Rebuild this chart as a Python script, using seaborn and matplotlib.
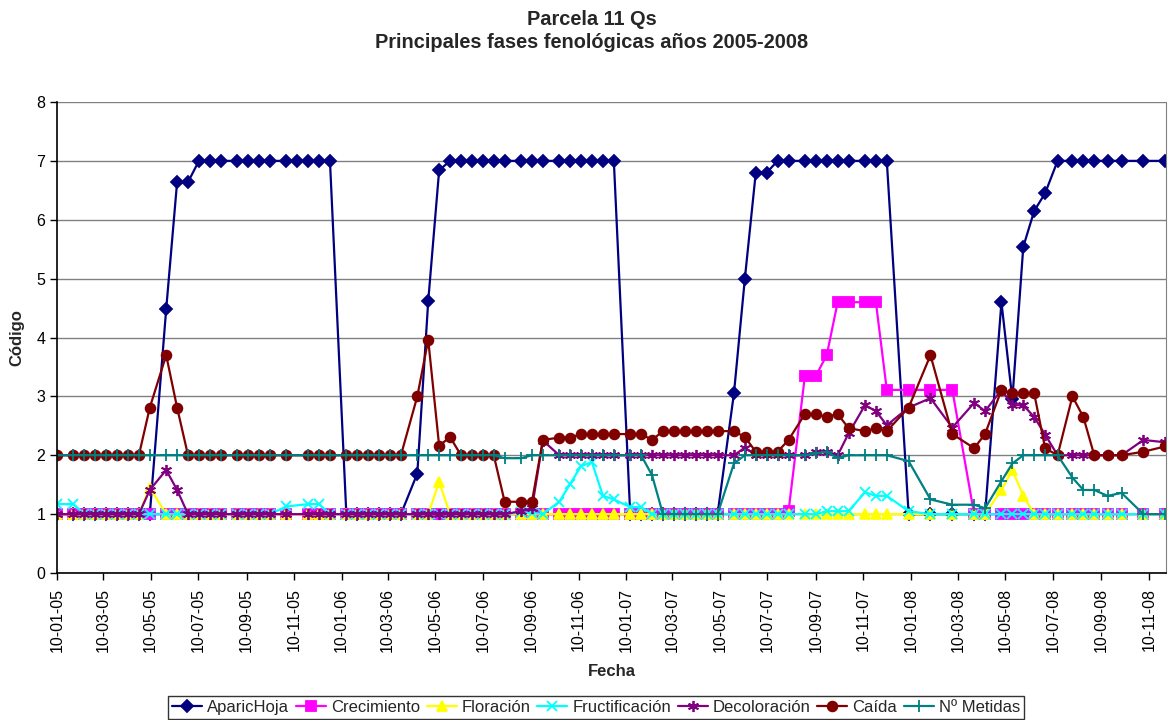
import pandas as pd
import matplotlib
matplotlib.use('Agg')
import matplotlib.pyplot as plt
import matplotlib.dates as mdates
import seaborn as sns

# Fechas de muestreo
fechas = [
    "2005-01-10", "2005-01-31", "2005-02-14", "2005-02-28", "2005-03-14", "2005-03-28", "2005-04-11", "2005-04-25", "2005-05-09", "2005-05-30",
    "2005-06-13", "2005-06-27", "2005-07-11", "2005-07-25", "2005-08-08", "2005-08-29", "2005-09-12", "2005-09-26", "2005-10-10", "2005-10-31",
    "2005-11-14", "2005-11-28", "2005-12-12", "2005-12-26", "2006-01-16", "2006-01-30", "2006-02-13", "2006-02-27", "2006-03-13", "2006-03-27",
    "2006-04-17", "2006-05-01", "2006-05-15", "2006-05-29", "2006-06-12", "2006-06-26", "2006-07-10", "2006-07-24", "2006-08-07", "2006-08-28",
    "2006-09-11", "2006-09-25", "2006-10-16", "2006-10-30", "2006-11-13", "2006-11-27", "2006-12-11", "2006-12-25", "2007-01-15", "2007-01-29",
    "2007-02-12", "2007-02-26", "2007-03-12", "2007-03-26", "2007-04-09", "2007-04-23", "2007-05-07", "2007-05-28", "2007-06-11", "2007-06-25",
    "2007-07-09", "2007-07-23", "2007-08-06", "2007-08-27", "2007-09-10", "2007-09-24", "2007-10-08", "2007-10-22", "2007-11-12", "2007-11-26",
    "2007-12-10", "2008-01-07", "2008-02-04", "2008-03-03", "2008-03-31", "2008-04-14", "2008-05-05", "2008-05-19", "2008-06-02", "2008-06-16",
    "2008-06-30", "2008-07-16", "2008-08-04", "2008-08-18", "2008-09-01", "2008-09-18", "2008-10-06", "2008-11-03", "2008-12-01",
]

N = None

aparic_hoja = [
    1, 1, 1, 1, 1, 1, 1, 1, 1, 4.48,
    6.64, 6.64, 7, 7, 7, 7, 7, 7, 7, 7,
    7, 7, 7, 7, 1, 1, 1, 1, 1, 1,
    1.69, 4.62, 6.84, 7, 7, 7, 7, 7, 7, 7,
    7, 7, 7, 7, 7, 7, 7, 7, 1, 1,
    1, 1, 1, 1, 1, 1, 1, 3.05, 5.0, 6.8,
    6.8, 7, 7, 7, 7, 7, 7, 7, 7, 7,
    7, 1, 1, 1, 1, 1, 4.6, 2.95, 5.54, 6.15,
    6.45, 7, 7, 7, 7, 7, 7, 7, 7,
]

crecimiento = [
    1, 1, 1, 1, 1, 1, 1, 1, 1, 1,
    1, 1, 1, 1, 1, 1, 1, 1, 1, 1,
    N, 1, 1, 1, 1, 1, 1, 1, 1, 1,
    1, 1, 1, 1, 1, 1, 1, 1, 1, 1,
    1, 1, 1, 1, 1, 1, 1, 1, 1, 1,
    1, 1, 1, 1, 1, 1, 1, 1, 1, 1,
    1, 1, 1.05, 3.35, 3.35, 3.7, 4.6, 4.6, 4.6, 4.6,
    3.11, 3.11, 3.11, 3.11, 1, 1, 1, 1, 1, 1,
    1, 1, 1, 1, 1, 1, 1, 1, 1,
]

floracion = [
    1, 1, 1, 1, 1, 1, 1, 1, 1.45, 1,
    1, 1, 1, 1, 1, 1, 1, 1, 1, 1,
    N, 1, 1, 1, 1, 1, 1, 1, 1, 1,
    1, 1, 1.55, 1, 1, 1, 1, 1, 1, 1,
    1, 1, 1, 1, 1, 1, 1, 1, 1, 1,
    1, 1, 1, 1, 1, 1, 1, 1, 1, 1,
    1, 1, 1, 1, 1, 1, 1, 1, 1, 1,
    1, 1, 1, 1, 1, 1, 1.41, 1.75, 1.31, 1,
    1, 1, 1, 1, 1, 1, 1, 1, 1,
]

fructificacion = [
    1.17, 1.17, 1, 1, 1, 1, 1, 1, 1, 1,
    1, 1, 1, 1, 1, 1, 1, 1, 1, 1.13,
    N, 1.17, 1.17, 1, 1, 1, 1, 1, 1, 1,
    1, 1, 1, 1, 1, 1, 1, 1, 1, 1.03,
    1.02, 1.0, 1.21, 1.51, 1.82, 1.88, 1.31, 1.25, 1.12, 1.12,
    1, 1, 1, 1, 1, 1, 1, 1, 1, 1,
    1, 1, 1, 1, 1, 1.05, 1.05, 1.05, 1.37, 1.31,
    1.31, 1.05, 1, 1, 1, 1, 1, 1, 1, 1,
    1, 1, 1, 1, 1, 1, 1, 1, 1,
]

decoloracion = [
    1, 1, 1, 1, 1, 1, 1, 1, 1.41, 1.75,
    1.41, 1, 1, 1, 1, 1, 1, 1, 1, 1,
    N, 1, 1, 1, 1, 1, 1, 1, 1, 1,
    1, 1, 1, 1, 1, 1, 1, 1, 1, 1.05,
    1.1, 2.25, 2, 2, 2, 2, 2, 2, 2, 2,
    2, 2, 2, 2, 2, 2, 2, 2, 2.13, 2,
    2, 2, 2, 2, 2.06, 2.06, 2, 2.37, 2.85, 2.75,
    2.51, 2.81, 2.97, 2.47, 2.89, 2.75, 3.11, 2.85, 2.85, 2.65,
    2.35, 2, 2, 2, 2, 2, 2, 2.26, 2.22,
]

caida = [
    2, 2, 2, 2, 2, 2, 2, 2, 2.81, 3.7,
    2.81, 2, 2, 2, 2, 2, 2, 2, 2, 2,
    N, 2, 2, 2, 2, 2, 2, 2, 2, 2,
    3.0, 3.96, 2.16, 2.31, 2, 2, 2, 2, 1.21, 1.21,
    1.21, 2.26, 2.3, 2.3, 2.36, 2.36, 2.36, 2.36, 2.36, 2.36,
    2.26, 2.41, 2.41, 2.41, 2.41, 2.41, 2.41, 2.41, 2.31, 2.06,
    2.06, 2.06, 2.26, 2.7, 2.7, 2.65, 2.7, 2.46, 2.41, 2.46,
    2.41, 2.81, 3.7, 2.36, 2.12, 2.36, 3.11, 3.05, 3.05, 3.05,
    2.12, 2, 3, 2.65, 2, 2, 2, 2.06, 2.15,
]

n_metidas = [
    2, 2, 2, 2, 2, 2, 2, 2, 2, 2,
    2, 2, 2, 2, 2, 2, 2, 2, 2, 2,
    N, 2, 2, 2, 2, 2, 2, 2, 2, 2,
    2, 2, 2, 2, 2, 2, 2, 2, 1.95, 1.95,
    2, 2, 2, 2, 2, 2, 2, 2, 2, 2,
    1.66, 1, 1, 1, 1, 1, 1, 1.86, 2, 2,
    2, 2, 2, 2, 2.03, 2.06, 1.95, 2, 2, 2,
    2, 1.9, 1.25, 1.16, 1.16, 1.1, 1.56, 1.86, 2, 2,
    2, 2, 1.62, 1.41, 1.41, 1.31, 1.36, 1, 1,
]

series = [
    ("AparicHoja", aparic_hoja, "#000080", "D", 6.5),
    ("Crecimiento", crecimiento, "#FF00FF", "s", 6.5),
    ("Floración", floracion, "#FFFF00", "^", 7),
    ("Fructificación", fructificacion, "#00FFFF", "x", 7),
    ("Decoloración", decoloracion, "#800080", (6, 2, 0), 8),
    ("Caída", caida, "#800000", "o", 7),
    ("Nº Metidas", n_metidas, "#008080", "+", 8),
]

sns.set_style("white")
plt.rcParams['font.family'] = ['Liberation Sans', 'DejaVu Sans']

fig = plt.figure(figsize=(11.68, 7.2), dpi=100)
ax = fig.add_axes([57 / 1168, 1 - 573 / 720, (1166 - 57) / 1168, (573 - 102) / 720])

for nombre, valores, color, marcador, tam in series:
    df = pd.DataFrame({"Fecha": pd.to_datetime(fechas), "Código": valores}).dropna()
    sns.lineplot(data=df, x="Fecha", y="Código", ax=ax, color=color, label=nombre,
                 marker=marcador, markersize=tam, markerfacecolor=color,
                 markeredgecolor=color, markeredgewidth=1.3, linewidth=1.6)

ax.set_ylim(0, 8)
ax.set_yticks(range(0, 9))
ax.set_xlim(pd.Timestamp("2005-01-10"), pd.Timestamp("2008-12-02"))
ax.xaxis.set_major_locator(mdates.MonthLocator(bymonth=[1, 3, 5, 7, 9, 11], bymonthday=10))
ax.xaxis.set_major_formatter(mdates.DateFormatter("%d-%m-%y"))
ax.yaxis.grid(True, color="#808080", linewidth=1)
ax.xaxis.grid(False)
ax.set_axisbelow(True)
ax.tick_params(axis="both", direction="out", length=5, width=1, color="black",
               bottom=True, left=True, labelsize=11.5, labelcolor="black")
ax.tick_params(axis="x", pad=6)
plt.setp(ax.get_xticklabels(), rotation=90)
for s in ["left", "bottom"]:
    ax.spines[s].set_color("black")
    ax.spines[s].set_linewidth(1.2)
ax.spines["top"].set_visible(False)
ax.spines["right"].set_color("#808080")
ax.set_xlabel("")
ax.set_ylabel("")

fig.text(592 / 1168, 1 - 25 / 720, "Parcela 11 Qs", ha="center", va="baseline",
         fontsize=14.4, fontweight="bold")
fig.text(592 / 1168, 1 - 48.5 / 720, "Principales fases fenológicas años 2005-2008", ha="center",
         va="baseline", fontsize=14.4, fontweight="bold")
fig.text(612 / 1168, 1 - 672 / 720, "Fecha", ha="center", va="center", fontsize=12, fontweight="bold")
fig.text(17 / 1168, 1 - 338 / 720, "Código", ha="center", va="center", rotation=90,
         fontsize=12, fontweight="bold")

ax.legend(loc="upper left", bbox_to_anchor=(168 / 1168, 1 - 696 / 720), bbox_transform=fig.transFigure,
          ncol=7, frameon=True, fancybox=False, edgecolor="black", fontsize=12,
          handlelength=1.8, handletextpad=0.3, columnspacing=0.4, borderpad=0.25, borderaxespad=0)

fig.savefig("out.png", dpi=100)
